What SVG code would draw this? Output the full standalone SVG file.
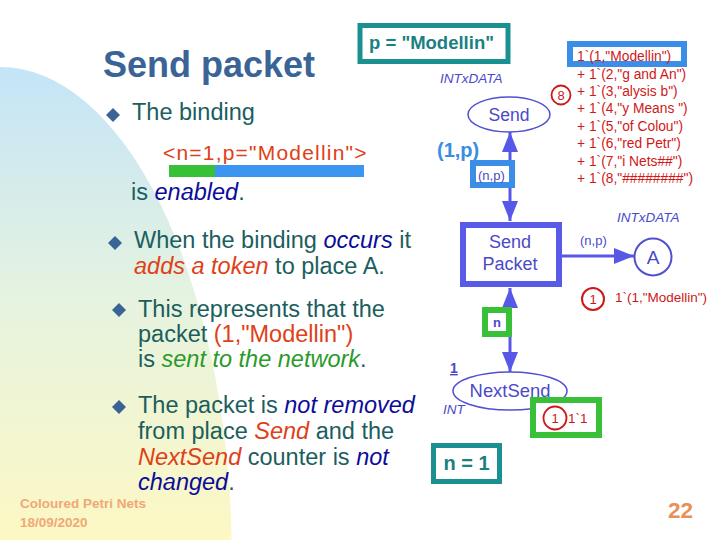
<svg xmlns="http://www.w3.org/2000/svg" width="720" height="540" viewBox="0 0 720 540">
<defs>
<linearGradient id="bg" x1="0" y1="0" x2="0" y2="1">
<stop offset="0" stop-color="#c4e4f8"/>
<stop offset="0.5" stop-color="#e6f3df"/>
<stop offset="1" stop-color="#fdf8c4"/>
</linearGradient>
<marker id="arr" viewBox="0 0 20 16" refX="20" refY="8" markerWidth="20" markerHeight="16" markerUnits="userSpaceOnUse" orient="auto-start-reverse">
<path d="M0,0 L20,8 L0,16 z" fill="#5858e8"/>
</marker>
<style>
text{font-family:"Liberation Sans",Arial,sans-serif}
.body{font-size:23.5px;fill:#1b5e5e}
.red{fill:#e04018}
.blu{fill:#0c0c9a;font-style:italic}
.grn{fill:#2a9a2a;font-style:italic}
.it{font-style:italic}
.diam{fill:#3b6496}
.net{fill:#4a4ac8}
.mark{font-size:13.8px;fill:#d01818}
.arc{stroke:#5858e8;stroke-width:3;fill:none}
.foot{font-size:13.5px;font-weight:bold;fill:#f0a878}
</style>
</defs>
<rect width="720" height="540" fill="#ffffff"/>
<path d="M0,67 A232,493 0 0 1 231.6,540 L0,540 Z" fill="url(#bg)"/>

<g id="title">
<text x="103" y="77" font-size="36" font-weight="bold" fill="#3b6496">Send packet</text>
</g>

<g id="binding-box">
<rect x="360" y="25.5" width="148" height="36" fill="#fff" stroke="#1a9090" stroke-width="5"/>
<text x="369" y="49" font-size="18.5" font-weight="bold" fill="#1a8080">p = "Modellin"</text>
</g>

<g id="bullets">
<path class="diam" d="M113,108 L120,115 L113,122 L106,115 Z"/>
<text class="body" x="132" y="120">The binding</text>
<text x="163" y="160" font-size="21" letter-spacing="1.2" class="red">&lt;n=1,p="Modellin"&gt;</text>
<rect x="169" y="165" width="46" height="12" fill="#38c038"/>
<rect x="215" y="165" width="149" height="12" fill="#3a96f0"/>
<text class="body" x="131" y="200">is <tspan class="blu">enabled</tspan>.</text>

<path class="diam" d="M115,236 L122,243 L115,250 L108,243 Z"/>
<text class="body" x="134" y="248">When the binding <tspan class="blu">occurs</tspan> it</text>
<text class="body" x="134" y="274"><tspan class="red it">adds a token</tspan> to place A.</text>

<path class="diam" d="M119,303 L126,310 L119,317 L112,310 Z"/>
<text class="body" x="138" y="317">This represents that the</text>
<text class="body" x="138" y="342">packet <tspan class="red">(1,"Modellin")</tspan></text>
<text class="body" x="138" y="367">is <tspan class="grn">sent to the network</tspan>.</text>

<path class="diam" d="M119,400 L126,407 L119,414 L112,407 Z"/>
<text class="body" x="138" y="413">The packet is <tspan class="blu">not removed</tspan></text>
<text class="body" x="138" y="439">from place <tspan class="red it">Send</tspan> and the</text>
<text class="body" x="138" y="465"><tspan class="red it">NextSend</tspan> counter is <tspan class="blu">not</tspan></text>
<text class="body" x="138" y="490"><tspan class="blu">changed</tspan>.</text>
</g>

<g id="footer">
<text class="foot" x="20" y="508">Coloured Petri Nets</text>
<text class="foot" x="20" y="527">18/09/2020</text>
<text x="668" y="518" font-size="22.5" font-weight="bold" fill="#e8905a">22</text>
</g>

<g id="connectors">
<line class="arc" x1="510" y1="132" x2="510" y2="221" marker-start="url(#arr)" marker-end="url(#arr)"/>
<line class="arc" x1="562" y1="256" x2="634" y2="256" marker-end="url(#arr)"/>
<line class="arc" x1="510" y1="288" x2="510" y2="372" marker-start="url(#arr)" marker-end="url(#arr)"/>
</g>

<g id="arc-label-send">
<text x="437" y="157" font-size="20" font-weight="bold" fill="#3a8ee0">(1,p)</text>
<rect x="473" y="163" width="39" height="22" fill="#fff" stroke="#3a8ee8" stroke-width="6"/>
<text x="478" y="180" font-size="13" class="net">(n,p)</text>
</g>

<g id="place-send">
<text x="440" y="83" font-size="13.5" class="net it">INTxDATA</text>
<ellipse cx="509" cy="114.5" rx="41" ry="17.5" fill="#fff" stroke="#5050d0" stroke-width="1.5"/>
<text x="509" y="121" font-size="17.5" text-anchor="middle" class="net">Send</text>
<circle cx="561" cy="95" r="9.5" fill="#fff" stroke="#cc1818" stroke-width="1.8"/>
<text x="561" y="100" font-size="13" text-anchor="middle" fill="#cc1818">8</text>
</g>

<g id="marking-send">
<rect x="570" y="44" width="114" height="20" fill="none" stroke="#3a8ee8" stroke-width="6"/>
<text class="mark" x="577" y="61">1`(1,"Modellin")</text>
<text class="mark" x="577" y="78.5">+ 1`(2,"g and An")</text>
<text class="mark" x="577" y="96">+ 1`(3,"alysis b")</text>
<text class="mark" x="577" y="113">+ 1`(4,"y Means ")</text>
<text class="mark" x="577" y="131">+ 1`(5,"of Colou")</text>
<text class="mark" x="577" y="148">+ 1`(6,"red Petr")</text>
<text class="mark" x="577" y="166">+ 1`(7,"i Nets##")</text>
<text class="mark" x="577" y="183">+ 1`(8,"########")</text>
</g>

<g id="transition-sendpacket">
<rect x="463" y="225" width="96" height="59" fill="#fff" stroke="#5a5ae8" stroke-width="6"/>
<text x="510" y="248" font-size="18" text-anchor="middle" class="net">Send</text>
<text x="510" y="270" font-size="18" text-anchor="middle" class="net">Packet</text>
</g>

<g id="place-a">
<text x="580" y="245" font-size="13" class="net">(n,p)</text>
<text x="617" y="222" font-size="13.5" class="net it">INTxDATA</text>
<circle cx="653" cy="257" r="18.5" fill="#fff" stroke="#5050d0" stroke-width="2"/>
<text x="653" y="264" font-size="19" text-anchor="middle" class="net">A</text>
<circle cx="593" cy="299" r="11" fill="#fff" stroke="#cc1818" stroke-width="2"/>
<text x="593" y="304" font-size="13" text-anchor="middle" fill="#cc1818">1</text>
<text x="615" y="302" font-size="13.5" fill="#cc1818">1`(1,"Modellin")</text>
</g>

<g id="arc-label-n">
<rect x="485" y="310" width="24" height="24" fill="#fff" stroke="#38c038" stroke-width="6"/>
<text x="497" y="327" font-size="13" font-weight="bold" text-anchor="middle" class="net">n</text>
</g>

<g id="place-nextsend">
<text x="450" y="373" font-size="14" font-weight="bold" class="net" text-decoration="underline">1</text>
<ellipse cx="510" cy="391" rx="57" ry="19" fill="#fff" stroke="#5050d0" stroke-width="1.5"/>
<text x="510" y="397" font-size="18.4" text-anchor="middle" class="net">NextSend</text>
<text x="443" y="414" font-size="13.5" class="net it">INT</text>
<rect x="533" y="400" width="66" height="35" fill="#fff" stroke="#38c038" stroke-width="6"/>
<circle cx="555" cy="418" r="11.5" fill="none" stroke="#cc1818" stroke-width="1.8"/>
<text x="555" y="423" font-size="13" text-anchor="middle" fill="#cc1818">1</text>
<text x="568" y="423" font-size="13.5" fill="#cc1818">1`1</text>
</g>

<g id="n-box">
<rect x="433.5" y="445.5" width="66" height="36" fill="#fff" stroke="#1a9090" stroke-width="5"/>
<text x="466.5" y="470" font-size="20" font-weight="bold" text-anchor="middle" fill="#1a8080">n = 1</text>
</g>
</svg>
